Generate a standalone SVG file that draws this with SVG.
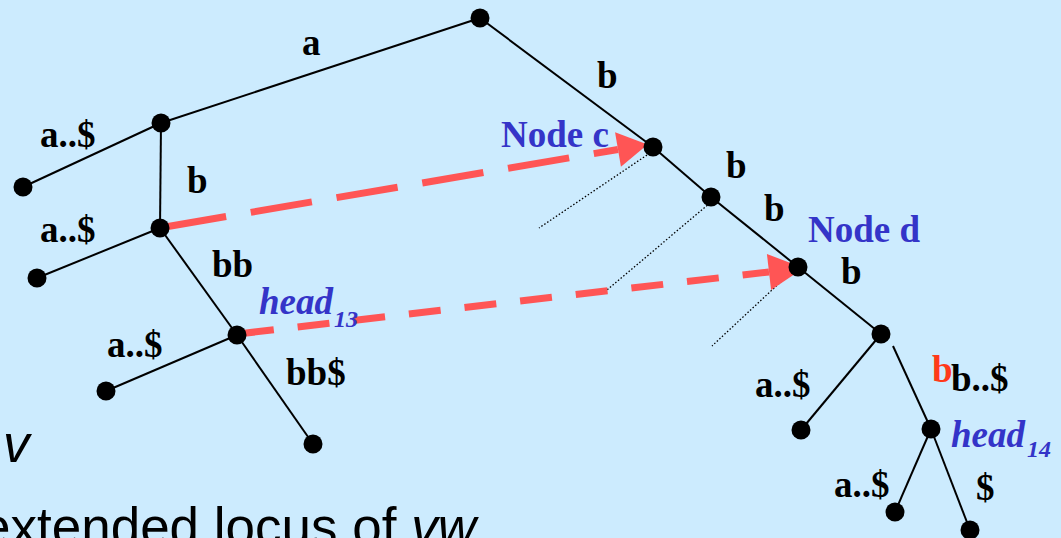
<svg xmlns="http://www.w3.org/2000/svg" width="1061" height="538" viewBox="0 0 1061 538">
<style>
.bg{fill:#CCEBFE}
.edge{stroke:#000;stroke-width:2;fill:none}
.dot{stroke:#000;stroke-width:1.3;stroke-dasharray:1.5 2;fill:none}
.node{fill:#000}
.lbl{font-family:"Liberation Serif","Times New Roman",serif;font-weight:bold;font-size:37px;fill:#000}
.blue{fill:#3434C8}
.head{font-family:"Liberation Serif","Times New Roman",serif;font-weight:bold;font-style:italic;font-size:37px;fill:#3434C8}
.sub{font-size:24px}
.red{fill:#FF3A1A}
.arr{stroke:#FF5555;stroke-width:7;fill:none}
.sans{font-family:"Liberation Sans",Arial,sans-serif;font-size:53px;fill:#000}
</style>
<defs>
<marker id="ah1" markerUnits="userSpaceOnUse" markerWidth="32" markerHeight="36" refX="0" refY="17.5" orient="auto" overflow="visible">
<path d="M0,0 L30,17.5 L0,35 Z" fill="#FF5555"/>
</marker>
<marker id="ah2" markerUnits="userSpaceOnUse" markerWidth="38" markerHeight="38" refX="0" refY="18" orient="auto" overflow="visible">
<path d="M0,0 L35,18 L0,36 Z" fill="#FF5555"/>
</marker>
</defs>
<rect class="bg" x="0" y="0" width="1061" height="538"/>

<g id="connectors">
<line class="edge" x1="480" y1="18" x2="161" y2="123"/>
<line class="edge" x1="161" y1="123" x2="23" y2="187"/>
<line class="edge" x1="161" y1="123" x2="160" y2="228"/>
<line class="edge" x1="160" y1="228" x2="37" y2="278"/>
<line class="edge" x1="160" y1="228" x2="237" y2="335"/>
<line class="edge" x1="237" y1="335" x2="106" y2="391"/>
<line class="edge" x1="237" y1="335" x2="313" y2="444"/>
<line class="edge" x1="480" y1="18" x2="653" y2="147"/>
<line class="edge" x1="653" y1="147" x2="711" y2="197"/>
<line class="edge" x1="711" y1="197" x2="798" y2="267"/>
<line class="edge" x1="798" y1="267" x2="881" y2="334"/>
<line class="edge" x1="881" y1="334" x2="801" y2="430"/>
<line class="edge" x1="893" y1="346" x2="931" y2="429"/>
<line class="edge" x1="931" y1="429" x2="895" y2="512"/>
<line class="edge" x1="931" y1="429" x2="970" y2="530"/>
<line class="dot" x1="647" y1="155" x2="539" y2="228"/>
<line class="dot" x1="710" y1="203" x2="607" y2="290"/>
<line class="dot" x1="787" y1="276" x2="712" y2="346"/>
<path class="arr" d="M165,227 L618,149.5" stroke-dasharray="62 25" marker-end="url(#ah1)"/>
<path class="arr" d="M242,333.5 L769,272" stroke-dasharray="32 24" marker-end="url(#ah2)"/>
</g>

<g id="root"><circle class="node" cx="480" cy="18" r="9.5"/></g>
<g id="nA"><circle class="node" cx="161" cy="123" r="9.5"/></g>
<g id="leaf1"><circle class="node" cx="23" cy="187" r="9.5"/></g>
<g id="nB"><circle class="node" cx="160" cy="228" r="9.5"/></g>
<g id="leaf2"><circle class="node" cx="37" cy="278" r="9.5"/></g>
<g id="nC"><circle class="node" cx="237" cy="335" r="9.5"/></g>
<g id="leaf3"><circle class="node" cx="106" cy="391" r="9.5"/></g>
<g id="leaf4"><circle class="node" cx="313" cy="444" r="9.5"/></g>
<g id="nodeC"><circle class="node" cx="653" cy="147" r="9.5"/></g>
<g id="n2"><circle class="node" cx="711" cy="197" r="9.5"/></g>
<g id="nodeD"><circle class="node" cx="798" cy="267" r="9.5"/></g>
<g id="n4"><circle class="node" cx="881" cy="334" r="9.5"/></g>
<g id="leaf5"><circle class="node" cx="801" cy="430" r="9.5"/></g>
<g id="n5"><circle class="node" cx="931" cy="429" r="9.5"/></g>
<g id="leaf6"><circle class="node" cx="895" cy="512" r="9.5"/></g>
<g id="leaf7"><circle class="node" cx="970" cy="530" r="9.5"/></g>

<g id="labels">
<text class="lbl" x="302" y="55">a</text>
<text class="lbl" x="597" y="88">b</text>
<text class="lbl" x="40" y="147">a..$</text>
<text class="lbl" x="187" y="193">b</text>
<text class="lbl" x="40" y="242">a..$</text>
<text class="lbl" x="212" y="277">bb</text>
<text class="lbl" x="107" y="357">a..$</text>
<text class="lbl" x="286" y="385">bb$</text>
<text class="head" x="259" y="314">head<tspan class="sub" x="334" y="327">13</tspan></text>
<text class="lbl blue" x="501" y="147">Node c</text>
<text class="lbl" x="726" y="178">b</text>
<text class="lbl" x="764" y="221">b</text>
<text class="lbl blue" x="808" y="242">Node d</text>
<text class="lbl" x="841" y="284">b</text>
<text class="lbl" x="755" y="397">a..$</text>
<text class="lbl red" x="932" y="382">b</text>
<text class="lbl" x="951" y="391">b..$</text>
<text class="head" x="951" y="447">head<tspan class="sub" x="1027" y="457">14</tspan></text>
<text class="lbl" x="834" y="497">a..$</text>
<text class="lbl" x="976" y="500">$</text>
<text class="sans" x="3" y="462" font-style="italic">v</text>
<text class="sans" x="-19" y="545">extended locus of <tspan font-style="italic">vw</tspan></text>
</g>
</svg>
